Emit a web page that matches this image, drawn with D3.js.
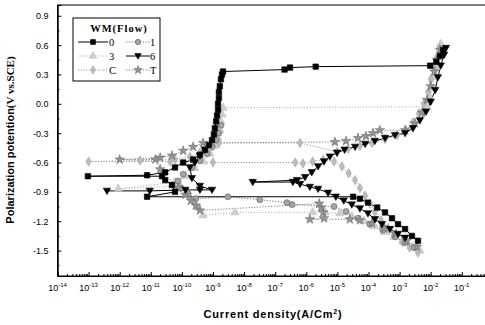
<!DOCTYPE html>
<html><head><meta charset="utf-8">
<script src="https://cdn.jsdelivr.net/npm/d3@7"></script>
<style>body{margin:0;background:#fff}svg{display:block}</style>
</head><body>
<svg id="chart" width="485" height="325"></svg>
<script>
// ---------- data ----------
const xTickExponents = [-14,-13,-12,-11,-10,-9,-8,-7,-6,-5,-4,-3,-2,-1];
const yTickValues = [-1.5,-1.2,-0.9,-0.6,-0.3,0.0,0.3,0.6,0.9];
const seriesNames = ["0","1","3","6","C","T"];
const legendTitle = "WM(Flow)";
const xTitle = "Current density(A/Cm";
const yTitleSans = "Polarization potention";
const yTitleSerif = "(V vs.SCE)";

const current0 = [3.9e-3,2.5e-3,1.5e-3,8.9e-4,5.7e-4,3.4e-4,1.9e-4,9.6e-5,5.3e-5,3.2e-5,7.6e-12,6.0e-11,4.8e-11,2.9e-11,2.3e-11,9.5e-14,7.6e-12,2.9e-11,6.0e-11,1.1e-10,2.3e-10,3.8e-10,5.5e-10,7.4e-10,9.3e-10,1.07e-9,1.15e-9,1.26e-9,1.35e-9,1.45e-9,1.45e-9,1.55e-9,1.55e-9,1.66e-9,1.8e-9,1.95e-9,2.1e-9,2.0e-7,3.0e-7,2.0e-6,9.6e-3,1.5e-2,2.0e-2,2.5e-2];
const potential0 = [-1.40,-1.35,-1.28,-1.23,-1.17,-1.11,-1.06,-1.01,-0.97,-0.95,-0.95,-0.90,-0.83,-0.78,-0.74,-0.74,-0.73,-0.70,-0.65,-0.60,-0.57,-0.52,-0.47,-0.42,-0.37,-0.31,-0.25,-0.18,-0.12,-0.06,0.00,0.06,0.12,0.18,0.25,0.30,0.33,0.35,0.37,0.38,0.39,0.43,0.49,0.55];

const current1 = [2.9e-3,1.5e-3,7.1e-4,2.9e-4,1.1e-4,4.6e-5,1.9e-5,7.8e-6,3.5e-7,2.4e-7,3.2e-8,3.0e-9,2.8e-10,1.6e-10,9.3e-11,7.5e-11,1.1e-10,2.1e-10,3.8e-10,6.5e-10,9.3e-10,1.26e-9,1.55e-9,1.8e-9];
const potential1 = [-1.47,-1.42,-1.36,-1.29,-1.23,-1.17,-1.10,-1.05,-1.03,-1.01,-0.98,-0.95,-0.97,-0.92,-0.86,-0.79,-0.72,-0.65,-0.58,-0.51,-0.44,-0.37,-0.30,-0.22];

const current3 = [4.5e-3,2.5e-3,1.3e-3,6.6e-4,3.2e-4,1.5e-4,7.2e-5,2.9e-5,1.2e-5,4.0e-6,1.6e-6,5.1e-9,4.8e-10,3.3e-10,2.3e-10,1.45e-10,8.7e-11,8.9e-13,6.0e-11,1.3e-10,2.6e-10,4.8e-10,8.0e-10,1.15e-9,1.45e-9,1.66e-9,1.8e-9,1.95e-9,2.1e-9,7.6e-3,9.6e-3,1.1e-2,1.3e-2,1.5e-2,1.7e-2,2.0e-2,2.1e-2];
const potential3 = [-1.50,-1.46,-1.41,-1.36,-1.31,-1.25,-1.20,-1.15,-1.12,-1.11,-1.11,-1.11,-1.14,-1.06,-0.99,-0.92,-0.84,-0.87,-0.80,-0.74,-0.66,-0.59,-0.51,-0.43,-0.35,-0.27,-0.18,-0.11,-0.04,-0.03,0.06,0.16,0.27,0.37,0.47,0.55,0.61];

const current6 = [1.5e-3,8.9e-4,4.9e-4,2.7e-4,1.6e-4,9.6e-5,5.3e-5,2.9e-5,1.6e-5,8.9e-6,5.0e-6,2.4e-6,1.3e-6,6.3e-7,3.7e-7,1.9e-8,5.0e-7,9.1e-7,1.5e-6,2.4e-6,3.7e-6,5.7e-6,9.7e-6,1.7e-5,3.7e-5,7.8e-5,1.6e-4,3.4e-4,7.1e-4,1.5e-3,2.7e-3,4.5e-3,7.1e-3,1.0e-2,1.4e-2,1.7e-2,2.1e-2,2.7e-2,3.1e-2,null,3.9e-13,9.3e-12,1.3e-10,3.8e-10,9.3e-10,3.8e-10,2.1e-10,1.8e-10,2.6e-10,3.8e-10,5.5e-10];
const potential6 = [-1.37,-1.33,-1.28,-1.23,-1.18,-1.12,-1.07,-1.03,-0.99,-0.95,-0.91,-0.87,-0.85,-0.82,-0.80,-0.80,-0.78,-0.75,-0.70,-0.64,-0.59,-0.54,-0.50,-0.47,-0.44,-0.41,-0.38,-0.35,-0.32,-0.30,-0.25,-0.17,-0.08,0.02,0.14,0.27,0.39,0.50,0.57,null,-0.89,-0.89,-0.88,-0.88,-0.88,-0.84,-0.76,-0.65,-0.60,-0.53,-0.47];

const currentC = [3.9e-3,2.1e-3,1.2e-3,7.1e-4,4.2e-4,2.5e-4,1.6e-4,1.1e-4,7.8e-5,5.3e-5,3.7e-5,2.3e-5,1.4e-5,7.8e-6,3.5e-6,1.6e-6,7.8e-7,4.4e-7,1.0e-9,4.2e-11,1.0e-13,4.5e-12,6.0e-11,1.8e-10,3.8e-10,6.5e-10,1.0e-9,1.55e-9,6.3e-7,9.7e-6,2.2e-5,5.3e-5,1.3e-4,3.4e-4,8.3e-4,1.6e-3,2.7e-3,4.2e-3,6.0e-3,8.3e-3,1.0e-2,1.3e-2,1.6e-2,1.9e-2];
const potentialC = [-1.52,-1.47,-1.41,-1.34,-1.27,-1.19,-1.10,-1.02,-0.94,-0.86,-0.78,-0.71,-0.64,-0.59,-0.57,-0.59,-0.61,-0.60,-0.60,-0.59,-0.59,-0.58,-0.57,-0.54,-0.50,-0.46,-0.43,-0.40,-0.40,-0.49,-0.46,-0.43,-0.40,-0.36,-0.32,-0.27,-0.19,-0.10,0.00,0.12,0.25,0.37,0.48,0.57];

const currentT = [3.6e-3,1.7e-3,7.6e-4,3.2e-4,1.3e-4,5.3e-5,2.5e-5,1.3e-6,3.7e-6,3.5e-6,3.0e-6,2.6e-6,3.8e-10,2.8e-10,1.95e-10,1.3e-10,7.5e-11,2.0e-11,1.4e-11,1.0e-12,2.0e-11,4.8e-11,1.1e-10,2.3e-10,4.8e-10,8.3e-6,1.9e-5,4.6e-5,8.3e-5,1.4e-4,2.3e-4,1.5e-3,3.1e-3,5.3e-3,7.6e-3,1.0e-2,1.3e-2,1.6e-2,2.0e-2];
const potentialT = [-1.46,-1.40,-1.33,-1.27,-1.22,-1.19,-1.18,-1.18,-1.17,-1.11,-1.06,-1.02,-1.09,-1.04,-0.99,-0.93,-0.86,-0.67,-0.57,-0.57,-0.55,-0.53,-0.48,-0.44,-0.40,-0.39,-0.38,-0.35,-0.33,-0.30,-0.27,-0.27,-0.20,-0.09,0.04,0.18,0.33,0.45,0.55];

// ---------- styles ----------
const down = {draw(ctx, size){ const s=Math.sqrt(size/1.3); ctx.moveTo(-s*0.6,-s*0.45); ctx.lineTo(s*0.6,-s*0.45); ctx.lineTo(0,s*0.6); ctx.closePath(); }};
const styles = {
  "0": {line:"#000", dash:null, sym:d3.symbolSquare, size:30, fill:"#000", stroke:"#000"},
  "1": {line:"#777", dash:"1.2,1.6", sym:d3.symbolCircle, size:28, fill:"#a5a5a5", stroke:"#5a5a5a"},
  "3": {line:"#a8a8a8", dash:"1,1.8", sym:d3.symbolTriangle, size:30, fill:"#cfcfcf", stroke:"#bdbdbd"},
  "6": {line:"#000", dash:null, sym:down, size:48, fill:"#000", stroke:"#000"},
  "C": {line:"#999", dash:"1.2,1.6", sym:d3.symbolDiamond, size:26, fill:"#bbbbbb", stroke:"#aaaaaa"},
  "T": {line:"#808080", dash:"1.2,1.6", sym:d3.symbolStar, size:28, fill:"#939393", stroke:"#6e6e6e"}
};
const seriesData = {
  "0": d3.zip(current0, potential0),
  "1": d3.zip(current1, potential1),
  "3": d3.zip(current3, potential3),
  "6": d3.zip(current6, potential6),
  "C": d3.zip(currentC, potentialC),
  "T": d3.zip(currentT, potentialT)
};

// ---------- scales ----------
const svg = d3.select("#chart");
const x = d3.scaleLog().domain([1e-14, 1]).range([57.5, 492.9]);
const y = d3.scaleLinear().domain([-1.76, 1.01]).range([276, 5]);
const font = "'Liberation Sans', Arial, sans-serif";
const serif = "'Liberation Serif', 'Times New Roman', serif";

svg.append("defs").append("clipPath").attr("id","clip")
  .append("rect").attr("x",57.5).attr("y",5).attr("width",435.4).attr("height",271);

// frame
svg.append("rect").attr("x",57.5).attr("y",5).attr("width",435.4).attr("height",271)
  .attr("fill","none").attr("stroke","#000").attr("stroke-width",1);

// x axis ticks (inward)
const majorX = xTickExponents.map(e => Math.pow(10, e)).concat([1]);
const minorX = [];
majorX.slice(0, -1).forEach(v => { for (let k = 2; k <= 9; k++) minorX.push(v * k); });
const gx = svg.append("g").attr("transform","translate(0,276)");
gx.call(d3.axisBottom(x).tickValues(majorX).tickSize(-4).tickFormat(""));
gx.append("g").call(d3.axisBottom(x).tickValues(minorX).tickSize(-2).tickFormat(""));
gx.selectAll(".domain").attr("stroke","#000");
gx.selectAll("line").attr("stroke","#000");

const xl = svg.append("g").attr("font-family", font).attr("fill","#000");
xTickExponents.forEach(e => {
  const t = xl.append("text").attr("x", x(Math.pow(10, e))).attr("y", 291)
    .attr("text-anchor","middle").attr("font-size", 9);
  t.append("tspan").text("10");
  t.append("tspan").attr("dy", -4).attr("font-size", 6).text(String(e));
});

// y axis
const gy = svg.append("g").attr("transform","translate(57.5,0)");
gy.call(d3.axisLeft(y).tickValues(yTickValues).tickSize(-4).tickPadding(9)
  .tickFormat(d => d.toFixed(1)));
const minorY = yTickValues.map(v => v + 0.15).concat([-1.65]).filter(v => v < 1.0);
gy.append("g").call(d3.axisLeft(y).tickValues(minorY).tickSize(-2).tickFormat(""));
gy.selectAll("text").attr("font-family", font).attr("font-size", 9).attr("fill","#000");
gy.selectAll("line").attr("stroke","#000");
gy.selectAll(".domain").attr("stroke","#000");

// titles
const xt = svg.append("text").attr("x", 273).attr("y", 318).attr("text-anchor","middle")
  .attr("font-family", font).attr("font-weight","bold").attr("font-size", 11)
  .attr("letter-spacing", 0.8);
xt.append("tspan").text(xTitle);
xt.append("tspan").attr("dy",-4).attr("font-size",7).text("2");
xt.append("tspan").attr("dy",4).text(")");

const yt = svg.append("text").attr("transform","translate(14,140) rotate(-90)")
  .attr("text-anchor","middle").attr("font-weight","bold").attr("font-size", 11);
yt.append("tspan").attr("font-family", font).text(yTitleSans);
yt.append("tspan").attr("font-family", serif).text(yTitleSerif);

// ---------- data ----------
const plot = svg.append("g").attr("clip-path","url(#clip)");
const line = d3.line().defined(d => d[0] != null).x(d => x(d[0])).y(d => y(d[1]));
const order = ["3","C","1","T","0","6"];
order.forEach(n => {
  const st = styles[n], data = seriesData[n];
  plot.append("path").datum(data).attr("d", line).attr("fill","none")
    .attr("stroke", st.line).attr("stroke-width", 1)
    .attr("stroke-dasharray", st.dash);
});
order.forEach(n => {
  const st = styles[n], data = seriesData[n].filter(d => d[0] != null);
  plot.append("g").selectAll("path").data(data).join("path")
    .attr("transform", d => `translate(${x(d[0])},${y(d[1])})`)
    .attr("d", d3.symbol().type(st.sym).size(st.size))
    .attr("fill", st.fill).attr("stroke", st.stroke).attr("stroke-width", 0.6);
});

// ---------- legend ----------
const lg = svg.append("g");
lg.append("rect").attr("x",73).attr("y",18).attr("width",87).attr("height",63)
  .attr("fill","#fff").attr("stroke","#000").attr("stroke-width",1);
lg.append("text").attr("x",119).attr("y",31.5).attr("text-anchor","middle")
  .attr("font-family", serif).attr("font-weight","bold").attr("font-size",10.5)
  .attr("letter-spacing",1).text(legendTitle);
const cols = [{x1:78,x2:108,mx:93,tx:109},{x1:126,x2:150,mx:138,tx:150}];
const rows = [42,56,70];
seriesNames.forEach((n, i) => {
  const c = cols[i % 2], ry = rows[Math.floor(i / 2)], st = styles[n];
  lg.append("line").attr("x1",c.x1).attr("x2",c.x2).attr("y1",ry).attr("y2",ry)
    .attr("stroke", st.line).attr("stroke-width",1).attr("stroke-dasharray", st.dash);
  lg.append("path").attr("transform",`translate(${c.mx},${ry})`)
    .attr("d", d3.symbol().type(st.sym).size(st.size * 0.8))
    .attr("fill", st.fill).attr("stroke", st.stroke).attr("stroke-width",0.6);
  lg.append("text").attr("x", c.tx).attr("y", ry + 3.5)
    .attr("font-family", serif).attr("font-size", 10.5).attr("fill","#000").text(n);
});
</script>
</body></html>
